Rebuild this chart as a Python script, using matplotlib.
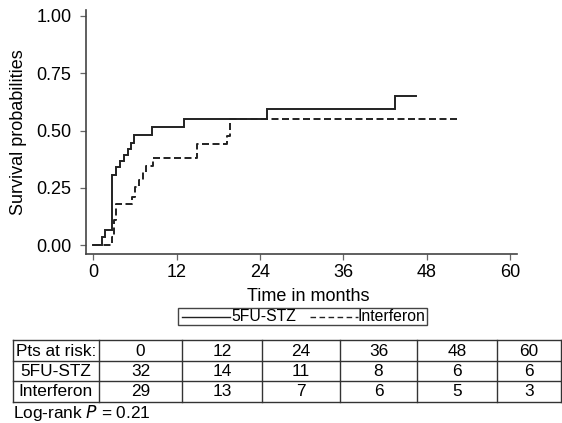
import matplotlib
matplotlib.use("Agg")
import matplotlib.pyplot as plt
from matplotlib.lines import Line2D
from matplotlib.patches import Rectangle

plt.rcParams['font.family'] = ['Liberation Sans', 'DejaVu Sans']

# ---- data ----
stz_t = [0, 1.3, 1.75, 2.7, 3.2, 3.8, 4.4, 5.0, 5.4, 5.8, 8.4, 13.1, 25.0, 43.5, 46.4]
stz_p = [0, 0.035, 0.067, 0.306, 0.339, 0.366, 0.395, 0.418, 0.446, 0.48, 0.514, 0.549, 0.593, 0.651, 0.651]
ifn_t = [0, 2.7, 2.95, 3.2, 5.6, 6.0, 6.6, 7.1, 7.6, 8.65, 15.0, 19.2, 19.7, 52.7]
ifn_p = [0, 0.036, 0.109, 0.18, 0.211, 0.252, 0.284, 0.32, 0.345, 0.379, 0.44, 0.476, 0.549, 0.549]
series_names = ["5FU-STZ", "Interferon"]
x_ticks = [0, 12, 24, 36, 48, 60]
y_ticks = [0.0, 0.25, 0.5, 0.75, 1.0]
y_ticklabels = ["0.00", "0.25", "0.50", "0.75", "1.00"]
risk_header = ["Pts at risk:", "0", "12", "24", "36", "48", "60"]
risk_stz = ["5FU-STZ", "32", "14", "11", "8", "6", "6"]
risk_ifn = ["Interferon", "29", "13", "7", "6", "5", "3"]

W, H = 562, 423
fig = plt.figure(figsize=(W / 100, H / 100), dpi=100)
FS = 13
FS_T = 12.4
FS_L = 11.3
col = '#222222'

def fx(px):
    return px / W

def fy(py):
    return 1 - py / H

ax = fig.add_axes([fx(86), fy(254), fx(517) - fx(86), fy(10) - fy(254)])
ax.step(stz_t, stz_p, where='post', color=col, lw=1.4, solid_joinstyle='miter')
ax.step(ifn_t, ifn_p, where='post', color=col, lw=1.4, linestyle=(0, (3.6, 1.8)))
ax.set_xlim(-1.05, 61.0)
ax.set_ylim(-0.039, 1.026)
ax.set_xticks(x_ticks)
ax.set_yticks(y_ticks)
ax.set_yticklabels(y_ticklabels)
for s in ['top', 'right']:
    ax.spines[s].set_visible(False)
for s in ['left', 'bottom']:
    ax.spines[s].set_color('#444444')
    ax.spines[s].set_linewidth(1.2)
ax.tick_params(axis='both', direction='out', length=4, width=0.9, color='#666666', labelsize=FS)
ax.tick_params(axis='y', pad=6.5)
ax.tick_params(axis='x', pad=3.5)
ax.set_ylabel("Survival probabilities", fontsize=FS)
ax.yaxis.set_label_coords((27 - 86) / 431, 0.5)
fig.text(fx(308), fy(296.5), "Time in months", ha='center', va='center', fontsize=FS)

# legend
fig.patches.append(Rectangle((fx(178), fy(325)), fx(427) - fx(178), fy(308) - fy(325),
                             transform=fig.transFigure, fill=False, ec='#444444', lw=1.0))
yl = fy(316.5)
fig.add_artist(Line2D([fx(182), fx(230)], [yl, yl], transform=fig.transFigure, color=col, lw=1.0))
fig.text(fx(231), yl, series_names[0], ha='left', va='center', fontsize=FS_L)
fig.add_artist(Line2D([fx(310), fx(358)], [yl, yl], transform=fig.transFigure, color=col, lw=1.0,
                      linestyle=(0, (4, 2.5))))
fig.text(fx(358), yl, series_names[1], ha='left', va='center', fontsize=FS_L)

# risk table
edges = [12.7, 99, 182, 262, 340, 417, 497, 561]
rows = [340, 361, 381, 402]
tax = fig.add_axes([0, 0, 1, 1])
tax.set_xlim(0, W)
tax.set_ylim(H, 0)
tax.axis('off')
for r in rows:
    tax.plot([edges[0], edges[-1]], [r, r], color='#333333', lw=1.0)
for e in edges:
    tax.plot([e, e], [rows[0], rows[-1]], color='#333333', lw=1.0)
for ri, rowvals in enumerate([risk_header, risk_stz, risk_ifn]):
    yc = (rows[ri] + rows[ri + 1]) / 2 + 0.5
    for ci, v in enumerate(rowvals):
        xc = (edges[ci] + edges[ci + 1]) / 2
        tax.text(xc, yc, v, ha='center', va='center', fontsize=FS_T)
tax.text(13, 413, "Log-rank $\\it{P}$ = 0.21", ha='left', va='center', fontsize=FS_T)

fig.savefig("out.png", dpi=100)
